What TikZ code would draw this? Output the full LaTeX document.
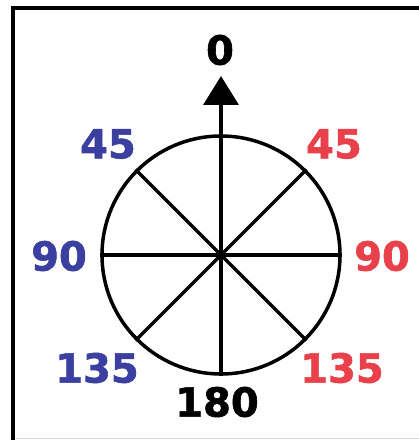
\documentclass[tikz,border=0pt]{standalone}
\usepackage{fontspec}
\setmainfont{DejaVu Sans}
\newfontfamily\numfont[FakeBold=1.5]{DejaVu Sans Bold}
\usetikzlibrary{arrows.meta}
\definecolor{lblblue}{HTML}{3A3FA0}
\definecolor{lblred}{HTML}{E8414B}
\tikzset{
  num/.style={font=\fontsize{40}{40}\numfont, inner sep=0pt},
  spoke/.style={line width=3.5pt, black},
}
\begin{document}
\begin{tikzpicture}[x=1pt,y=1pt]
\useasboundingbox (0,0) rectangle (419,440);
\fill[white] (0,0) rectangle (419,440);
% frame
\draw[line width=4pt, line cap=rect] (13,0) -- (13,432) -- (425,432);
\draw[line width=0.8pt, black!15] (15,2) -- (419,2);
% circle
\node[circle, draw, line width=3.5pt, minimum size=238pt, inner sep=0pt] (c) at (221,185) {};
\coordinate (tip) at (221,364);
\foreach \a in {45,135,225,315,270}{
  \draw[spoke] (c.center) -- (c.\a);
}
\draw[spoke] (c.west) -- (c.east);
\draw[spoke, -{Triangle[width=35pt,length=29pt]}] (c.center) -- (tip);
% labels
\node[num] (n0) at (220,390) {0};
\node[num, lblblue] (lb45) at (108,296) {45};
\node[num, lblred] (lr45) at (334,296) {45};
\node[num, lblblue] (lb90) at (59,184) {90};
\node[num, lblred] (lr90) at (382,184) {90};
\node[num, lblblue] (lb135) at (97,72) {135};
\node[num, lblred] (lr135) at (342,72) {135};
\node[num] (n180) at (217,38) {180};
\end{tikzpicture}
\end{document}
